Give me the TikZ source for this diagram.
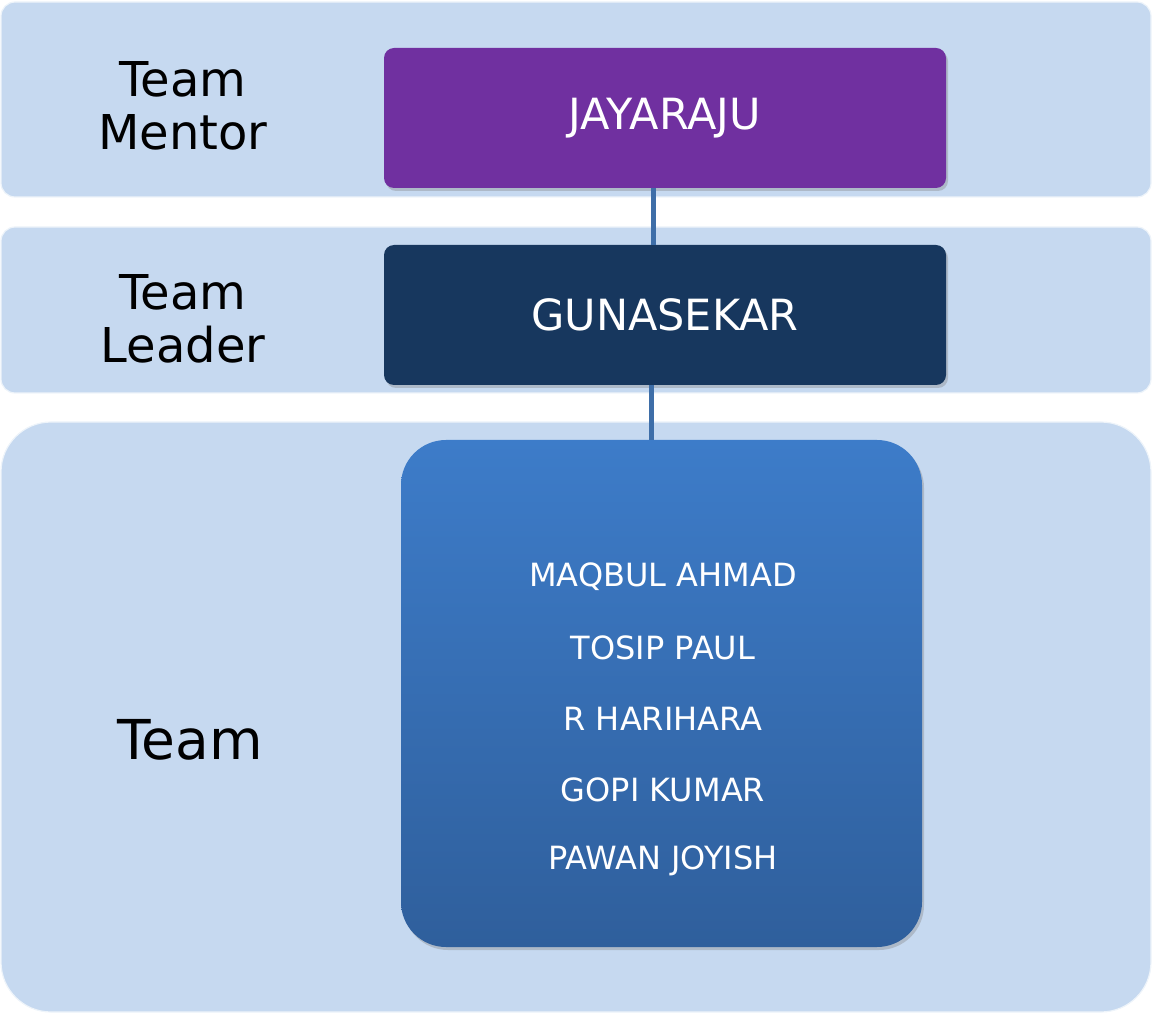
\documentclass[tikz,border=0pt]{standalone}
\usepackage{fontspec}
\setmainfont{DejaVu Sans}
\usetikzlibrary{positioning, shadows}

\definecolor{bandblue}{HTML}{C6D9F0}
\definecolor{mentorpurple}{HTML}{7030A0}
\definecolor{leadernavy}{HTML}{17375E}
\definecolor{teamtop}{HTML}{3D7CC9}
\definecolor{teambottom}{HTML}{2F5F9C}
\definecolor{linkblue}{HTML}{3E6EA8}

\tikzset{
  band/.style={fill=bandblue, draw=white!70!bandblue, line width=0.6pt},
  rolelabel/.style={align=center, font=\fontsize{24}{26.5}\selectfont},
  namebox/.style={rounded corners=5pt, minimum width=281pt, minimum height=70pt,
    text=white, font=\fontsize{21.5}{24}\selectfont,
    drop shadow={shadow xshift=1pt, shadow yshift=-1.5pt, opacity=0.35}},
  link/.style={linkblue, line width=2.5pt}
}

\begin{document}
\begin{tikzpicture}[x=0.5pt, y=-0.5pt]
    \useasboundingbox (0,0) rectangle (1153,1016);
    % the three bands
    \draw [band, rounded corners=7pt] (1,2) rectangle (1151,197);
    \draw [band, rounded corners=7pt] (1,227) rectangle (1151,393);
    \draw [band, rounded corners=25pt] (1,422) rectangle (1151,1012);

    % row titles
    \node[rolelabel] (mentorlbl) at (183,106) {Team\\Mentor};
    \node[rolelabel] (leaderlbl) at (183,319) {Team\\Leader};
    \node[font=\fontsize{27.5}{30}\selectfont] (teamlbl) at (190,740) {Team};

    % people
    \node[namebox, fill=mentorpurple] (mentor) at (665,118) {JAYARAJU};
    \node[namebox, fill=leadernavy] (leader) at (665,315) {GUNASEKAR};
    \node[rounded corners=22.5pt, minimum width=260.5pt, minimum height=253.5pt,
          top color=teamtop, bottom color=teambottom,
          drop shadow={shadow xshift=1pt, shadow yshift=-1.5pt, opacity=0.35}]
          (team) at (661.5,693.5) {};
    \foreach \who [count=\i] in {MAQBUL AHMAD, TOSIP PAUL, R HARIHARA, GOPI KUMAR, PAWAN JOYISH}
        \node[text=white, font=\fontsize{16}{18}\selectfont] (member\i) at (663,506+71*\i) {\who};

    % reporting lines
    \draw [link] ([xshift=-6pt]mentor.south) -- ([xshift=-6pt]leader.north);
    \draw [link] ([xshift=-7pt]leader.south) -- ([xshift=-7pt]leader.south |- team.north);
\end{tikzpicture}
\end{document}
